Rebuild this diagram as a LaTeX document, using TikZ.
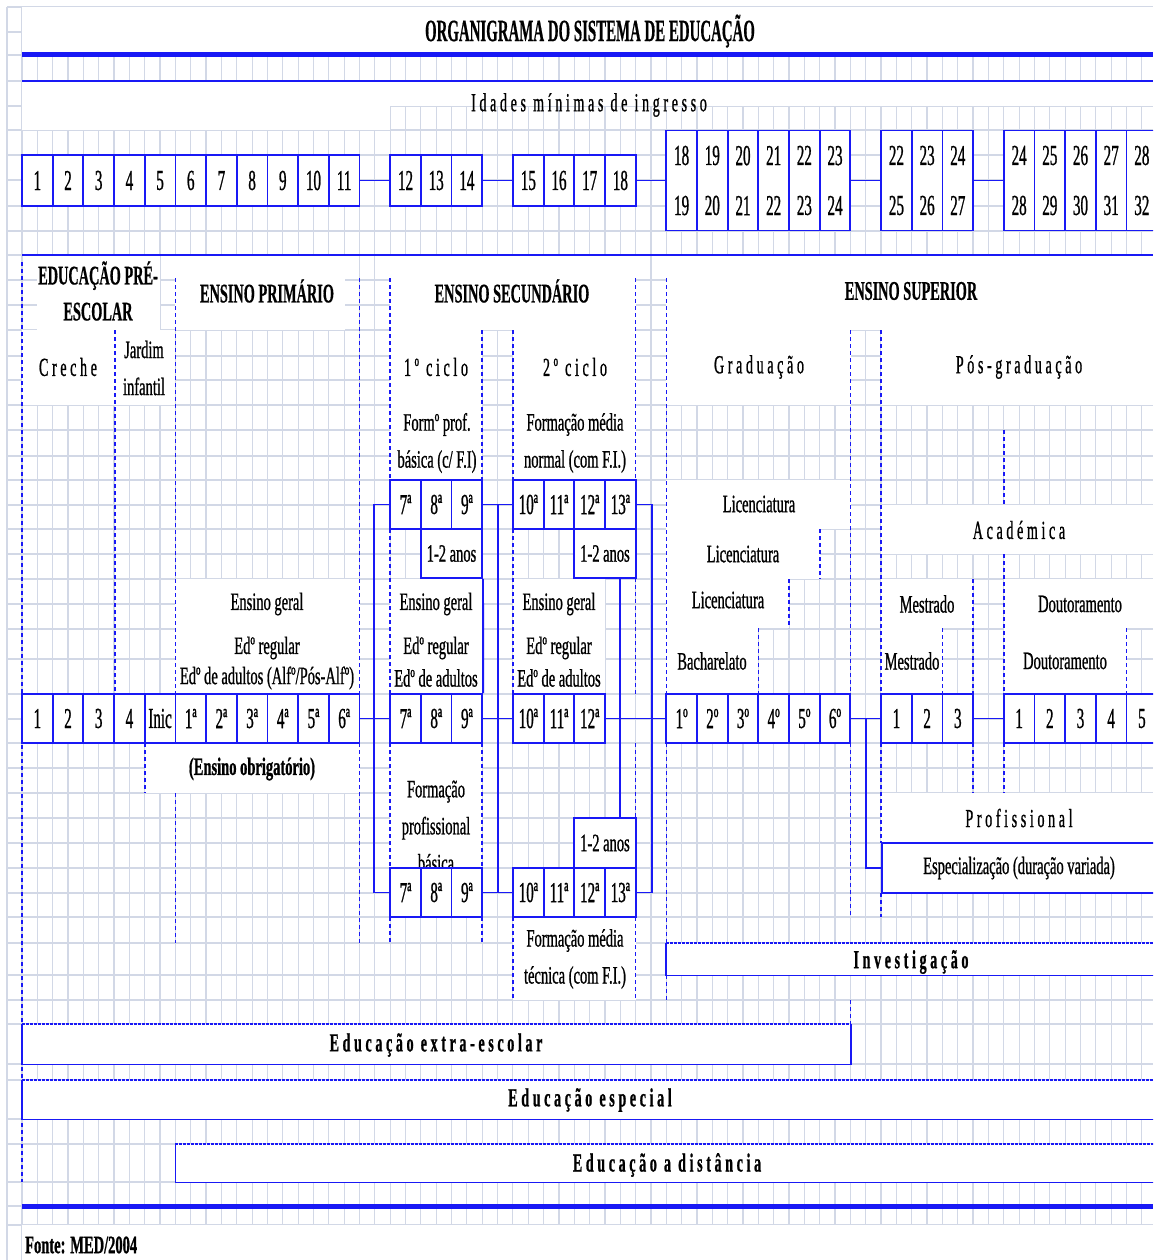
\documentclass[tikz,border=0pt]{standalone}
\usepackage{fontspec}
\usetikzlibrary{calc}
\newfontfamily\ftxt[FakeStretch=0.58,FakeBold=0.8]{Liberation Serif}
\newfontfamily\fnum[FakeStretch=0.52,FakeBold=0.8]{Liberation Serif}
\newfontfamily\fhead[FakeStretch=0.53,FakeBold=0.5]{Liberation Serif}
\newfontfamily\ftitle[FakeStretch=0.48,FakeBold=0.5]{Liberation Serif}
\newfontfamily\fspc[FakeStretch=0.54,LetterSpace=14,FakeBold=0.8]{Liberation Serif}
\definecolor{blu}{RGB}{25,25,245}
\definecolor{gridc}{RGB}{210,216,230}
\tikzset{
  grd/.style={draw=gridc, line width=1.2pt},
  bl/.style={draw=blu, line width=1.8pt},
  conn/.style={draw=blu, line width=1.8pt},
  thick line/.style={draw=blu, line width=5pt},
  thin line/.style={draw=blu, line width=2pt},
  dv/.style={draw=blu, line width=1.6pt, dash pattern=on 4pt off 3pt},
  dtop/.style={draw=blu, line width=1.7pt, dash pattern=on 2.5pt off 1.5pt},
  cell/.style={bl, fill=white, minimum width=30.68pt, inner sep=0pt, align=center,
    font=\fnum\fontsize{29}{50}\selectfont},
  txt/.style={inner sep=0pt, align=center, font=\ftxt\fontsize{25}{37}\selectfont},
  hd/.style={inner sep=0pt, align=center, font=\fhead\bfseries\fontsize{27}{36}\selectfont},
  spc/.style={inner sep=0pt, font=\fspc\fontsize{26}{30}\selectfont},
  spcb/.style={inner sep=0pt, font=\fspc\bfseries\fontsize{26}{30}\selectfont},
  band/.style={fill=white, inner sep=0pt, draw=none},
}
\begin{document}
\begin{tikzpicture}[x=1pt,y=-1pt]
\clip (0,0) rectangle (1153,1260);
\fill[white] (0,0) rectangle (1153,1260);

% spreadsheet grid
\foreach \y in {7,32,55,81,106,130,155,180,206,231,255,280,305,330,356,380,405,430,456,480,505,529,554,579,604,629,659,694,719,743,768,793,818,843,868,893,917,943,975,1000,1024,1064,1080,1119,1144,1182,1206,1225}
  \draw[grd] (7,\y) -- (1153,\y);
\draw[grd] (7,7) -- (7,1260);
\foreach \j in {0,...,74}
  \draw[grd] ({22+15.34*\j},7) -- ({22+15.34*\j},1260);

% merged (blank) cells
\foreach \xa/\ya/\xb/\yb in {
  22/7/1153/55, 22/81/1153/106, 22/106/390/130,
  37/255/160/330, 175/255/345/330, 390/255/636/330, 666/255/1153/330,
  22/330/115/405, 115/330/175/405, 390/330/482/405, 513/330/636/405,
  666/330/851/405, 881/330/1153/405,
  390/405/482/480, 513/405/636/480,
  666/480/851/529, 881/505/1153/554, 666/529/820/579, 666/579/789/628,
  881/579/973/628, 1004/579/1153/628, 666/628/758/694, 881/628/943/694,
  1004/628/1127/694,
  175/579/360/694, 390/579/482/694, 513/579/605/694,
  145/743/360/793, 390/743/482/868, 513/917/636/1000, 881/793/1153/843,
  22/1225/1153/1260}
  \fill[white] (\xa,\ya) rectangle (\xb,\yb);

% horizontal rules
\draw[thick line] (22,54.5) -- (1153,54.5);
\draw[thin line] (22,81) -- (1153,81);
\draw[thin line] (22,255) -- (1153,255);
\draw[thick line] (22,1206) -- (1153,1206);

% dashed column separators
\foreach \x/\ya/\yb in {
  22/262/1182,
  114.7/330/694,
  144.7/743/793,
  175.4/278/694, 175.4/793/943,
  359.5/278/694, 359.5/743/943,
  390.2/278/480, 390.2/529/694, 390.2/743/868, 390.2/917/943,
  482.2/330/480, 482.2/743/868, 482.2/917/943,
  513/330/480, 513/529/694, 513/917/1000,
  635.6/278/480, 635.6/578/694, 635.6/743/818, 635.6/917/1000,
  666.3/278/694, 666.3/743/943, 666.3/975/1000,
  850.4/330/694, 850.4/743/917, 850.4/1000/1024,
  881.1/330/694, 881.1/743/843, 881.1/893/917,
  1003.8/430/505, 1003.8/554/694, 1003.8/743/793,
  973.1/579/694, 973.1/743/793,
  942.4/628/694, 1126.5/628/694,
  819.7/529/579, 789/579/628, 758.3/628/694}
  \draw[dv] (\x,\ya) -- (\x,\yb);

% titles and labels
\node[inner sep=0pt, font=\ftitle\bfseries\fontsize{31}{31}\selectfont] (title) at (590,31) {ORGANIGRAMA DO SISTEMA DE EDUCAÇÃO};
\node[spc] (idades) at (589,105) {Idades mínimas de ingresso};

\node[hd] (hpre) at (98,291) {EDUCAÇÃO PRÉ-\\ESCOLAR};
\node[hd] (hpri) at (267,291) {ENSINO PRIMÁRIO};
\node[hd] (hsec) at (512,291) {ENSINO SECUNDÁRIO};
\node[hd] (hsup) at (911,291) {ENSINO SUPERIOR};

\node[spc] (creche) at (68,367) {Creche};
\node[txt] (jardim) at (144,368) {Jardim\\infantil};
\node[spc] (ciclo1) at (436,367) {1º ciclo};
\node[spc] (ciclo2) at (575,367) {2º ciclo};
\node[spc] (grad) at (759,367) {Graduação};
\node[spc] (posgrad) at (1019,367) {Pós-graduação};

\node[txt] (fpb) at (437,443) {Formº prof.\\básica (c/ F.I)};
\node[txt] (fmn) at (575,443) {Formação média\\normal (com F.I.)};

\node[txt] (lic1) at (759,504) {Licenciatura};
\node[txt] (lic2) at (743,554) {Licenciatura};
\node[txt] (lic3) at (728,600) {Licenciatura};
\node[txt] (bach) at (712,661) {Bacharelato};
\node[spc] (acad) at (1019,530) {Académica};
\node[txt] (mest1) at (927,604) {Mestrado};
\node[txt] (mest2) at (912,661) {Mestrado};
\node[txt] (dout1) at (1080,604) {Doutoramento};
\node[txt] (dout2) at (1065,661) {Doutoramento};

\node[txt] (egp) at (267,604) {Ensino geral};
\node[txt] (erp) at (267,648) {Edº regular};
\node[txt] (eap) at (267,678) {Edº de adultos (Alfº/Pós-Alfº)};
\node[txt] (eg1) at (436,604) {Ensino geral};
\node[txt] (er1) at (436,648) {Edº regular};
\node[txt] (ea1) at (436,678) {Edº de adultos};
\node[txt] (eg2) at (559,604) {Ensino geral};
\node[txt] (er2) at (559,648) {Edº regular};
\node[txt] (ea2) at (559,678) {Edº de adultos};

\node[inner sep=0pt, font=\ftxt\bfseries\fontsize{25}{30}\selectfont] (obrig) at (252,769) {(Ensino obrigatório)};
\node[txt] (fpbas) at (436,826) {Formação\\profissional\\básica};
\node[txt] (fmt) at (575,959) {Formação média\\técnica (com F.I.)};
\node[spc] (prof) at (1019,818) {Profissional};

% grade boxes: ages
\foreach \t [count=\i] in {1,...,11}
  \node[cell, minimum height=51pt] (a\i) at ({22+30.68*(\i-0.5)},180.5) {\t};
\foreach \t [count=\i] in {12,13,14}
  \node[cell, minimum height=51pt] (b\i) at ({390.2+30.68*(\i-0.5)},180.5) {\t};
\foreach \t [count=\i] in {15,16,17,18}
  \node[cell, minimum height=51pt] (c\i) at ({513+30.68*(\i-0.5)},180.5) {\t};
\foreach \u/\v [count=\i] in {18/19,19/20,20/21,21/22,22/23,23/24}
  \node[cell, minimum height=100pt] (d\i) at ({666.3+30.68*(\i-0.5)},180.5) {\u\\\v};
\foreach \u/\v [count=\i] in {22/25,23/26,24/27}
  \node[cell, minimum height=100pt] (e\i) at ({881.1+30.68*(\i-0.5)},180.5) {\u\\\v};
\foreach \u/\v [count=\i] in {24/28,25/29,26/30,27/31,28/32}
  \node[cell, minimum height=100pt] (f\i) at ({1003.8+30.68*(\i-0.5)},180.5) {\u\\\v};
\draw[conn] (a11.east) -- (b1.west);
\draw[conn] (b3.east) -- (c1.west);
\draw[conn] (c4.east) -- (d1.west);
\draw[conn] (d6.east) -- (e1.west);
\draw[conn] (e3.east) -- (f1.west);

% grade boxes: levels
\foreach \t [count=\i] in {1,2,3,4,Inic,1ª,2ª,3ª,4ª,5ª,6ª}
  \node[cell, minimum height=49pt] (p\i) at ({22+30.68*(\i-0.5)},718.5) {\t};
\foreach \t [count=\i] in {7ª,8ª,9ª} {
  \node[cell, minimum height=49pt] (st\i) at ({390.2+30.68*(\i-0.5)},504.5) {\t};
  \node[cell, minimum height=49pt] (sm\i) at ({390.2+30.68*(\i-0.5)},718.5) {\t};
  \node[cell, minimum height=49pt] (sb\i) at ({390.2+30.68*(\i-0.5)},892.5) {\t};
}
\foreach \t [count=\i] in {10ª,11ª,12ª,13ª} {
  \node[cell, minimum height=49pt] (tt\i) at ({513+30.68*(\i-0.5)},504.5) {\t};
  \node[cell, minimum height=49pt] (tb\i) at ({513+30.68*(\i-0.5)},892.5) {\t};
}
\foreach \t [count=\i] in {10ª,11ª,12ª}
  \node[cell, minimum height=49pt] (tm\i) at ({513+30.68*(\i-0.5)},718.5) {\t};
\foreach \t [count=\i] in {1º,2º,3º,4º,5º,6º}
  \node[cell, minimum height=49pt] (hm\i) at ({666.3+30.68*(\i-0.5)},718.5) {\t};
\foreach \t [count=\i] in {1,2,3}
  \node[cell, minimum height=49pt] (mm\i) at ({881.1+30.68*(\i-0.5)},718.5) {\t};
\foreach \t [count=\i] in {1,2,3,4,5}
  \node[cell, minimum height=49pt] (dm\i) at ({1003.8+30.68*(\i-0.5)},718.5) {\t};

\node[cell, txt, bl, fill=white, minimum width=61.36pt, minimum height=49pt] (an1) at (451.5,553.5) {1-2 anos};
\node[cell, txt, bl, fill=white, minimum width=61.36pt, minimum height=49pt] (an2) at (605,553.5) {1-2 anos};
\node[cell, txt, bl, fill=white, minimum width=61.36pt, minimum height=50pt] (an3) at (605,843) {1-2 anos};

% connectors between levels
\draw[conn] (p11.east) -- (sm1.west);
\draw[conn] (st1.west) -- ++(-15.34,0) |- (sb1.west);
\draw[conn] (st3.east) -- (tt1.west);
\draw[conn] (sm3.east) -- (tm1.west);
\draw[conn] (sb3.east) -- (tb1.west);
\draw[conn] ($(st3.east)!0.5!(tt1.west)$) -- ($(sb3.east)!0.5!(tb1.west)$);
\draw[conn] (an1.south east) -- (sm3.north east);
\draw[conn] (tt4.east) -- ++(15.34,0) |- (tb4.east);
\draw[conn] (tt4 |- an2.south) -- (tt4 |- an3.north);
\draw[conn] (tm3.east) -- (hm1.west);
\draw[conn] (hm6.east) -- (mm1.west);
\draw[conn] (mm3.east) -- (dm1.west);

% specialisation branch
\node[txt, bl, fill=white, minimum width=290pt, minimum height=50pt, anchor=west] (esp) at (881.1,868) {};
\node[txt] (espt) at (1019,868) {Especialização (duração variada)};
\draw[conn] ($(hm6.east)!0.5!(mm1.west)$) |- (esp.west);

% research and cross-cutting bands
\node[band, minimum width=500pt, minimum height=32pt, anchor=north west] (inv) at (666.3,943) {};
\node[spcb] (invt) at (911,962) {Investigação};
\draw[dtop] (inv.north west) -- (inv.north east);
\draw[conn] (inv.north west) -- (inv.south west) -- (inv.south east);

\node[band, minimum width=828.4pt, minimum height=40pt, anchor=north west] (ext) at (22,1024) {};
\node[spcb] (extt) at (436,1045) {Educação extra-escolar};
\draw[dtop] (ext.north west) -- (ext.north east);
\draw[conn] (ext.north east) -- (ext.south east) -- (ext.south west) -- (ext.north west);

\node[band, minimum width=1140pt, minimum height=39pt, anchor=north west] (esp2) at (22,1080) {};
\node[spcb] (esp2t) at (590,1100) {Educação especial};
\draw[dtop] (esp2.north west) -- (esp2.north east);
\draw[conn] (esp2.north west) -- (esp2.south west) -- (esp2.south east);

\node[band, minimum width=990pt, minimum height=38pt, anchor=north west] (dist) at (175.4,1144) {};
\node[spcb] (distt) at (667,1165) {Educação a distância};
\draw[dtop] (dist.north west) -- (dist.north east);
\draw[conn] (dist.north west) -- (dist.south west) -- (dist.south east);

\node[inner sep=0pt, anchor=west, font=\ftxt\bfseries\fontsize{25}{30}\selectfont] (fonte) at (25,1245) {Fonte: MED/2004};
\end{tikzpicture}
\end{document}
